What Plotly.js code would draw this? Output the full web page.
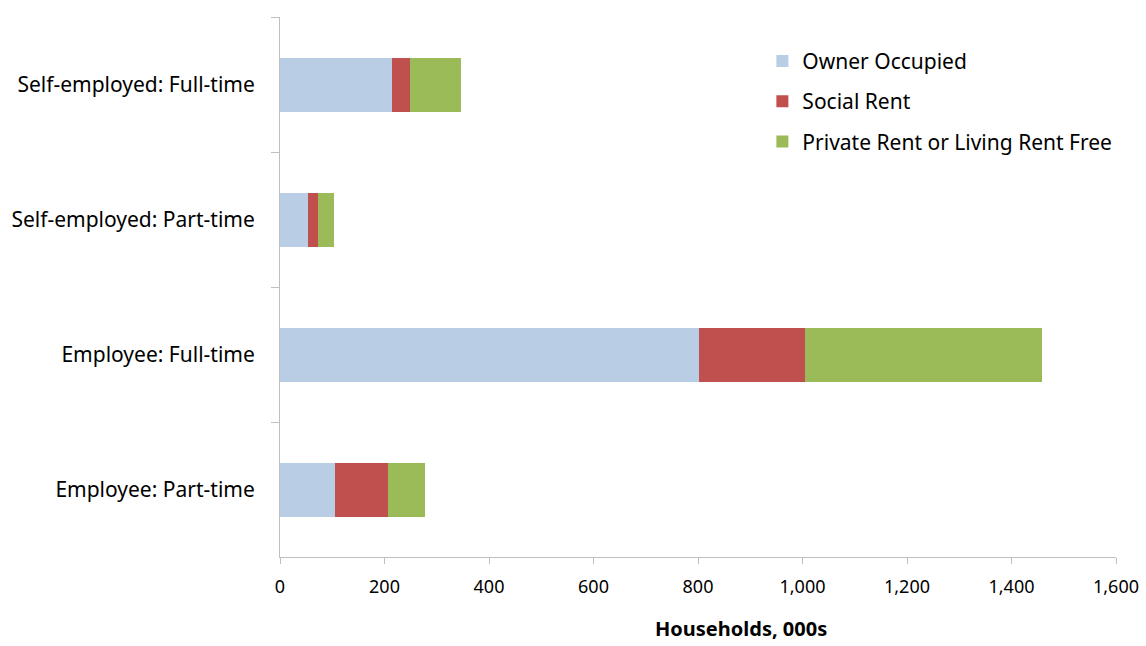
<!DOCTYPE html>
<html>
<head>
<meta charset="utf-8">
<script src="https://cdn.plot.ly/plotly-3.0.1.min.js"></script>
<style>html,body{margin:0;padding:0;background:#fff;}#chart{width:1146px;height:646px;}</style>
</head>
<body>
<div id="chart"></div>
<script>
var categories = ["Self-employed: Full-time", "Self-employed: Part-time", "Employee: Full-time", "Employee: Part-time"];
var ownerOccupied = [215, 54, 801, 105];
var socialRent = [34, 19, 203, 101];
var privateRent = [97, 30, 455, 71];
var seriesNames = ["Owner Occupied", "Social Rent", "Private Rent or Living Rent Free"];
var xTickValues = [0, 200, 400, 600, 800, 1000, 1200, 1400, 1600];
var xTickLabels = ["0", "200", "400", "600", "800", "1,000", "1,200", "1,400", "1,600"];
var xTitle = "Households, 000s";

var colors = ["#b9cde5", "#c0504d", "#9bbb59"];
var seriesValues = [ownerOccupied, socialRent, privateRent];
var font = "Noto Sans, Open Sans, sans-serif";

var traces = seriesValues.map(function (vals, i) {
  return {
    type: "bar",
    orientation: "h",
    name: seriesNames[i],
    x: vals,
    y: categories,
    legendgroup: "g" + i,
    marker: {color: colors[i], line: {width: 0}},
    hoverinfo: "x+name"
  };
});

var layout = {
  width: 1146,
  height: 646,
  margin: {l: 280, r: 30, t: 17, b: 89, pad: 0},
  paper_bgcolor: "#ffffff",
  plot_bgcolor: "#ffffff",
  barmode: "stack",
  bargap: 0.6,
  font: {family: font, size: 20, color: "#000000"},
  showlegend: true,
  legend: {
    x: 0.577, y: 0.956, xanchor: "left", yanchor: "top",
    traceorder: "grouped",
    tracegroupgap: 10,
    font: {family: font, size: 21, color: "#000000"},
    bgcolor: "rgba(0,0,0,0)"
  },
  xaxis: {
    range: [0, 1600],
    tickmode: "array",
    tickvals: xTickValues,
    ticktext: xTickLabels,
    ticks: "outside",
    ticklen: 6,
    tickcolor: "#bfbfbf",
    ticklabelstandoff: 7,
    showgrid: false,
    zeroline: false,
    showline: true,
    linecolor: "#bfbfbf",
    linewidth: 1,
    tickfont: {family: font, size: 18, color: "#000000"},
    fixedrange: true
  },
  yaxis: {
    type: "category",
    autorange: "reversed",
    ticks: "outside",
    tickson: "boundaries",
    ticklen: 8,
    tickcolor: "#bfbfbf",
    ticklabelstandoff: 20,
    showgrid: false,
    zeroline: false,
    showline: true,
    linecolor: "#bfbfbf",
    linewidth: 1,
    tickfont: {family: font, size: 21, color: "#000000"},
    fixedrange: true
  },
  annotations: [{
    text: "<b>" + xTitle + "</b>",
    xref: "paper", yref: "paper",
    x: 0.551, y: -0.162,
    xanchor: "center", yanchor: "bottom",
    showarrow: false,
    font: {family: font, size: 20, color: "#000000"}
  }]
};

Plotly.newPlot("chart", traces, layout, {displayModeBar: false, staticPlot: true});
</script>
</body>
</html>
